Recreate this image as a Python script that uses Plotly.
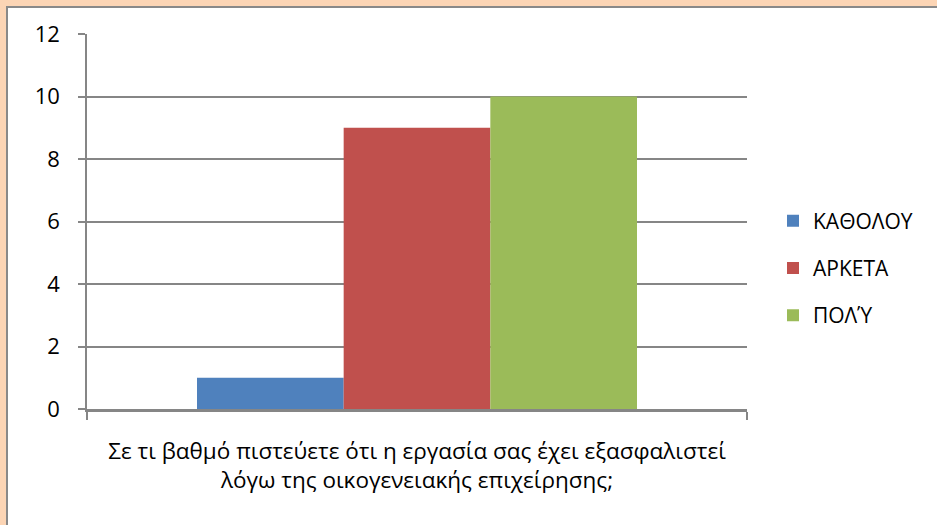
import plotly.graph_objects as go

categories = ["Σε τι βαθμό πιστεύετε ότι η εργασία σας έχει εξασφαλιστεί<br>λόγω της οικογενειακής επιχείρησης;"]
series_names = ["ΚΑΘΟΛΟΥ", "ΑΡΚΕΤΑ", "ΠΟΛΎ"]
series_values = [[1], [9], [10]]
series_colors = ["#4F81BD", "#C0504D", "#9BBB59"]
y_ticks = [0, 2, 4, 6, 8, 10, 12]

FONT = "Open Sans"
fig = go.Figure()
for name, vals, col in zip(series_names, series_values, series_colors):
    fig.add_trace(go.Bar(name=name, x=categories, y=vals, marker=dict(color=col, line=dict(width=0)),
                         legendgroup=name))

L, T, W, H = 87, 34, 660, 375
fig.update_layout(
    width=937, height=525,
    margin=dict(l=L, r=937 - L - W, t=T, b=525 - T - H, autoexpand=False),
    paper_bgcolor="#FCD5B5",
    plot_bgcolor="rgba(0,0,0,0)",
    barmode="group", bargap=1/3, bargroupgap=0,
    font=dict(family=FONT, size=22, color="#000000"),
    showlegend=True,
    legend=dict(x=(773 - L) / W, xanchor="left", y=(409 - 268) / H, yanchor="middle",
                bgcolor="rgba(0,0,0,0)", tracegroupgap=17, font=dict(size=21)),
    xaxis=dict(type="category", showgrid=False, showline=True, linecolor="#868686", linewidth=2.5,
               ticks="outside", tickson="boundaries", ticklen=8, tickcolor="#868686", tickwidth=1.5,
               ticklabelstandoff=20, tickfont=dict(size=22.5), range=[-0.5, 0.5]),
    yaxis=dict(range=[0, 12], tickvals=y_ticks, showgrid=True, gridcolor="#868686", gridwidth=1.5,
               showline=True, linecolor="#868686", linewidth=1.5, zeroline=False,
               ticks="outside", ticklen=7, tickcolor="#868686", tickwidth=1.5,
               ticklabelstandoff=14, tickfont=dict(size=22)),
    shapes=[dict(type="rect", xref="paper", yref="paper",
                 x0=(7 - L) / W, x1=(960 - L) / W, y0=(409 - 560) / H, y1=(409 - 7) / H,
                 fillcolor="#FFFFFF", line=dict(color="#898989", width=2), layer="below")],
)
fig.write_html("out.html", config={"displayModeBar": False},
               post_script="document.body.style.margin='0';")
